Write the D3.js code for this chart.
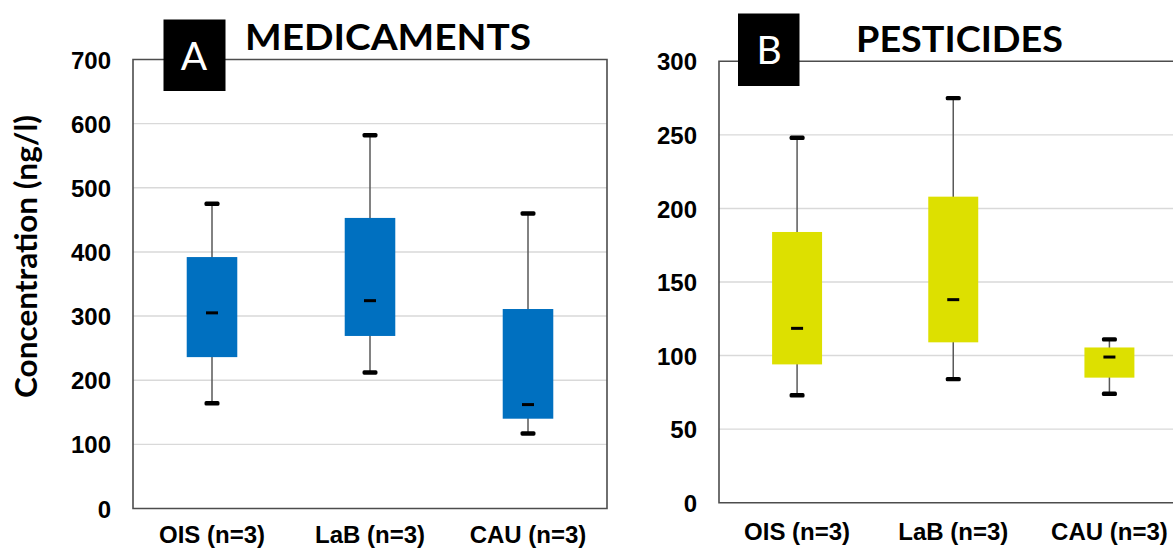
<!DOCTYPE html>
<html>
<head>
<meta charset="utf-8">
<script src="https://cdn.jsdelivr.net/npm/d3@7"></script>
<style>
  html, body { margin: 0; padding: 0; background: #ffffff; }
  svg { display: block; }
</style>
</head>
<body>
<svg id="chart" width="1173" height="549"></svg>
<script>
// Sampling sites (3 samples each)
const categories = ["OIS (n=3)", "LaB (n=3)", "CAU (n=3)"];

// A – pharmaceuticals, ng/l
const medMin    = [164, 212, 117];
const medQ1     = [236, 269, 140];
const medMedian = [305, 324, 162];
const medQ3     = [392, 453, 311];
const medMax    = [475, 582, 460];
const medTicks  = [0, 100, 200, 300, 400, 500, 600, 700];

// B – pesticides, ng/l
const pestMin    = [73, 84, 74];
const pestQ1     = [94, 109, 85];
const pestMedian = [118.5, 138, 99];
const pestQ3     = [184, 208, 105.5];
const pestMax    = [248, 275, 111];
const pestTicks  = [0, 50, 100, 150, 200, 250, 300];

const svg = d3.select("#chart");

const panels = [
  {
    letter: "A", title: "MEDICAMENTS", color: "#0070c0",
    min: medMin, q1: medQ1, median: medMedian, q3: medQ3, max: medMax, ticks: medTicks,
    x0: 133, x1: 607, y0: 59.5, y1: 508.5, labelGap: 34,
    box: { x: 163.5, y: 19.5, w: 62, h: 71.5, lx: 194, ly: 70 },
    titleX: 245, titleY: 50, titleLen: 286,
    closedRight: true
  },
  {
    letter: "B", title: "PESTICIDES", color: "#dde000",
    min: pestMin, q1: pestQ1, median: pestMedian, q3: pestQ3, max: pestMax, ticks: pestTicks,
    x0: 719, x1: 1187.5, y0: 61.3, y1: 502.7, labelGap: 37.5,
    box: { x: 738, y: 13.5, w: 61.5, h: 72.5, lx: 769, ly: 64 },
    titleX: 856, titleY: 52.3, titleLen: 207,
    closedRight: false
  }
];

panels.forEach(p => {
  const g = svg.append("g");
  const x = d3.scaleBand().domain(categories).range([p.x0, p.x1]).padding(0);
  const yMax = d3.max(p.ticks);
  const y = d3.scaleLinear().domain([0, yMax]).range([p.y1, p.y0]);

  // horizontal gridlines
  g.append("g").selectAll("line")
    .data(p.ticks.filter(t => t > 0 && t < yMax))
    .join("line")
    .attr("x1", p.x0).attr("x2", p.x1)
    .attr("y1", d => y(d)).attr("y2", d => y(d))
    .attr("stroke", "#d9d9d9").attr("stroke-width", 1.4);

  // tick labels
  const yAxis = d3.axisLeft(y).tickValues(p.ticks).tickSize(0).tickPadding(22);
  const ax = g.append("g").attr("transform", `translate(${p.x0},0)`).call(yAxis);
  ax.select(".domain").remove();
  ax.selectAll("text")
    .attr("font-family", "'Liberation Sans', Arial, sans-serif")
    .attr("font-weight", "bold")
    .attr("font-size", 24)
    .attr("fill", "#000")
    .attr("dy", "0.36em");

  // plot frame
  const frame = d3.path();
  if (p.closedRight) {
    frame.moveTo(p.x0, p.y0); frame.lineTo(p.x1, p.y0); frame.lineTo(p.x1, p.y1);
    frame.lineTo(p.x0, p.y1); frame.closePath();
  } else {
    frame.moveTo(p.x1 + 10, p.y0); frame.lineTo(p.x0, p.y0);
    frame.lineTo(p.x0, p.y1); frame.lineTo(p.x1 + 10, p.y1);
  }
  g.append("path").attr("d", frame.toString())
    .attr("fill", "none").attr("stroke", "#4d4d4d").attr("stroke-width", 1.6);

  // category labels
  g.append("g").selectAll("text")
    .data(categories)
    .join("text")
    .attr("x", d => x(d) + x.bandwidth() / 2)
    .attr("y", p.y1 + p.labelGap)
    .attr("text-anchor", "middle")
    .attr("font-family", "'Liberation Sans', Arial, sans-serif")
    .attr("font-weight", "bold")
    .attr("font-size", 24)
    .attr("fill", "#000")
    .text(d => d);

  const rows = categories.map((c, i) => ({
    c, min: p.min[i], q1: p.q1[i], med: p.median[i], q3: p.q3[i], max: p.max[i]
  }));
  const cx = d => x(d.c) + x.bandwidth() / 2;
  const bw = x.bandwidth() * 0.32;

  // whiskers
  g.append("g").selectAll("line")
    .data(rows).join("line")
    .attr("x1", cx).attr("x2", cx)
    .attr("y1", d => y(d.max)).attr("y2", d => y(d.min))
    .attr("stroke", "#595959").attr("stroke-width", 1.5);

  // interquartile boxes
  g.append("g").selectAll("rect")
    .data(rows).join("rect")
    .attr("x", d => cx(d) - bw / 2)
    .attr("width", bw)
    .attr("y", d => y(d.q3))
    .attr("height", d => y(d.q1) - y(d.q3))
    .attr("fill", p.color);

  // medians
  g.append("g").selectAll("rect")
    .data(rows).join("rect")
    .attr("x", d => cx(d) - 6)
    .attr("width", 12)
    .attr("y", d => y(d.med) - 1.5)
    .attr("height", 3)
    .attr("fill", "#000");

  // whisker caps (min and max)
  const caps = rows.flatMap(d => [{ d, v: d.min }, { d, v: d.max }]);
  g.append("g").selectAll("rect")
    .data(caps).join("rect")
    .attr("x", e => cx(e.d) - 7.5)
    .attr("width", 15)
    .attr("y", e => y(e.v) - 2.2)
    .attr("height", 4.4)
    .attr("rx", 1.6)
    .attr("fill", "#000");

  // panel letter tag
  g.append("rect")
    .attr("x", p.box.x).attr("y", p.box.y)
    .attr("width", p.box.w).attr("height", p.box.h)
    .attr("fill", "#000");
  g.append("text")
    .attr("x", p.box.lx).attr("y", p.box.ly)
    .attr("text-anchor", "middle")
    .attr("font-family", "Lato, 'Open Sans', sans-serif")
    .attr("font-size", 39)
    .attr("fill", "#fff")
    .text(p.letter);

  // panel title
  g.append("text")
    .attr("x", p.titleX).attr("y", p.titleY)
    .attr("font-family", "Lato, 'Open Sans', sans-serif")
    .attr("font-weight", "bold")
    .attr("font-size", 37)
    .attr("textLength", p.titleLen)
    .attr("lengthAdjust", "spacingAndGlyphs")
    .attr("fill", "#000")
    .text(p.title);
});

// shared y-axis title
svg.append("text")
  .attr("transform", "translate(37,256.5) rotate(-90)")
  .attr("text-anchor", "middle")
  .attr("font-family", "Lato, 'Open Sans', sans-serif")
  .attr("font-weight", "bold")
  .attr("font-size", 30)
  .attr("textLength", 283)
  .attr("lengthAdjust", "spacingAndGlyphs")
  .attr("fill", "#000")
  .text("Concentration (ng/l)");
</script>
</body>
</html>
